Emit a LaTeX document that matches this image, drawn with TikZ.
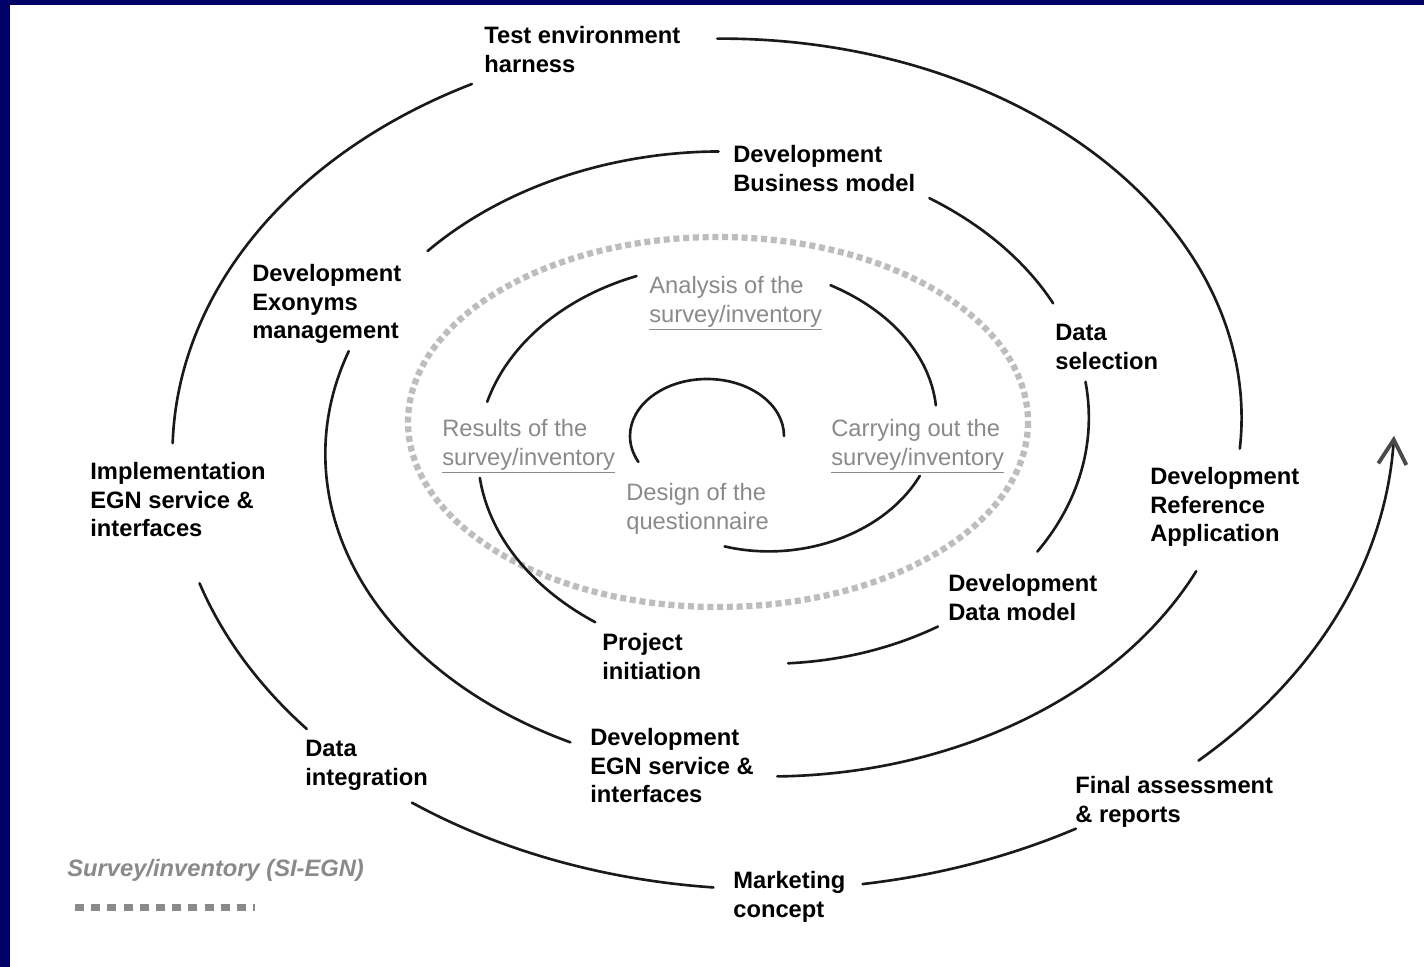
\documentclass[tikz,border=0pt]{standalone}
\usepackage{fontspec}
\setmainfont{Liberation Sans}
\usepackage{xcolor}
\definecolor{FondBleu}{HTML}{000066}
\definecolor{Spirale}{HTML}{1A1A1A}
\definecolor{GrisTexte}{HTML}{8A8A8A}
\definecolor{GrisPoint}{HTML}{BDBDBD}
\definecolor{GrisFleche}{HTML}{4A4A4A}
\usepackage{tikz}
\usetikzlibrary{arrows.meta}

\tikzset{
  declare function={spx(\t)=745.25+(36.75+0.425*\t)*cos(\t);
                    spy(\t)=435.75-(29.5+0.31389*\t)*sin(\t);},
  spirale/.style={draw=Spirale, line width=1.5pt, line cap=round},
  etape/.style={font=\fontsize{13.5pt}{16.2pt}\selectfont\bfseries, anchor=north west, align=left, inner sep=0pt},
  sondage/.style={font=\fontsize{13.5pt}{16.2pt}\selectfont, text=GrisTexte, anchor=north west, align=left, inner sep=0pt}
}

\begin{document}
\begin{tikzpicture}[x=0.02cm, y=-0.02cm]
	% Cadre bleu (gauche et haut)
	\fill[FondBleu] (0,0) rectangle (1424,967);
	\fill[white] (10,5) rectangle (1424,967);
	\useasboundingbox (0,0) rectangle (1424,967);

	% Ellipse pointillée : enquête SI-EGN
	\draw[GrisPoint, line width=0.125cm, dash pattern=on 0.12cm off 0.075cm] (718,422) ellipse [x radius=310, y radius=185];

	% Spirale, interrompue par les étiquettes
	\draw[spirale] (784,436) arc[start angle=0, end angle=-207, x radius=77, y radius=57];
	\foreach \a/\b in {262/343, 372/427, 477/530, 552/599, 638/667, 692/732, 750/780, 814/862, 884/967, 994/1058, 1078/1173, 1200/1261, 1280/1302, 1316/1347, 1361/1382}
		\draw[spirale] plot[domain=\a:\b, samples=60, smooth] ({spx(\x)},{spy(\x)});
	\draw[spirale, -{Straight Barb[length=14pt, width=16pt, line width=2.2pt, color=GrisFleche]}] plot[domain=1396:1440, samples=60, smooth] ({spx(\x)},{spy(\x)});

	% Etapes du projet
	\node[etape] (tester) at (484,26) {Test environment\\harness};
	\node[etape] (metier) at (733,145) {Development\\Business model};
	\node[etape] (exonymes) at (252,264) {Development\\Exonyms\\management};
	\node[etape] (selection) at (1055,324) {Data\\selection};
	\node[etape] (implementation) at (90,462) {Implementation\\EGN service \&\\interfaces};
	\node[etape] (reference) at (1150,467) {Development\\Reference\\Application};
	\node[etape] (donnees) at (948,574) {Development\\Data model};
	\node[etape] (initiation) at (602,633) {Project\\initiation};
	\node[etape] (service) at (590,728) {Development\\EGN service \&\\interfaces};
	\node[etape] (integration) at (305,740) {Data\\integration};
	\node[etape] (evaluation) at (1075,776) {Final assessment\\\& reports};
	\node[etape] (marketing) at (733,871) {Marketing\\concept};

	% Etapes de l'enquête (gris)
	\node[sondage] (analyse) at (649,276) {Analysis of the\\\underline{survey/inventory}};
	\node[sondage] (resultats) at (442,419) {Results of the\\\underline{survey/inventory}};
	\node[sondage] (realisation) at (831,419) {Carrying out the\\\underline{survey/inventory}};
	\node[sondage] (conception) at (626,483) {Design of the\\questionnaire};

	% Légende
	\node[etape, text=GrisTexte, font=\fontsize{13.5pt}{16.2pt}\selectfont\bfseries\itshape] (legende) at (67,859) {Survey/inventory (SI-EGN)};
	\draw[GrisTexte, line width=0.14cm, dash pattern=on 0.18cm off 0.144cm] (75,907) -- (255,907);
\end{tikzpicture}
\end{document}
